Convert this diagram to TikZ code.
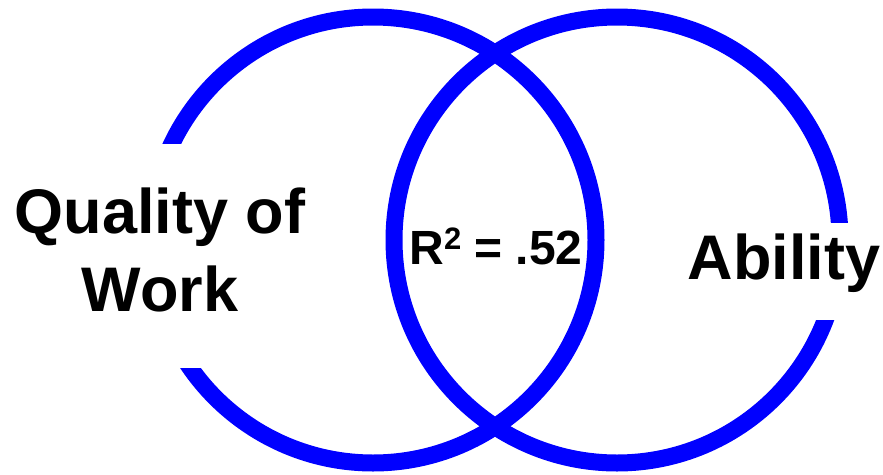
\documentclass[tikz,border=0pt]{standalone}
\usepackage{fontspec}
\setmainfont{Liberation Sans}
\definecolor{ringblue}{RGB}{0,0,255}
\tikzset{
  ring/.style={draw=ringblue, line width=17pt},
  mask/.style={fill=white, draw=none, inner sep=0pt},
  biglabel/.style={font=\fontsize{63}{78}\selectfont\bfseries, inner sep=0pt, align=center},
  midlabel/.style={font=\fontsize{48}{56}\selectfont\bfseries, inner sep=0pt},
}
\begin{document}
\begin{tikzpicture}[x=1pt,y=-1pt]
\useasboundingbox[fill=white] (0,0) rectangle (883,474);
\coordinate (cL) at (373,240);
\coordinate (cR) at (617,240);
\draw[ring] (cL) circle[radius=223pt];
\draw[ring] (cR) circle[radius=223pt];
\node[mask, minimum width=300pt, minimum height=224pt] (maskL) at (160,256) {};
\node[mask, minimum width=200pt, minimum height=97pt] (maskR) at (784,271.5) {};
\node[biglabel] (quality) at (160,250) {Quality of\\Work};
\node[biglabel, anchor=base] (ability) at (784,279) {Ability};
\node[midlabel, anchor=base] (rsq) at (496,264) {R\raisebox{14.5pt}{\fontsize{31}{31}\selectfont 2} = .52};
\end{tikzpicture}
\end{document}
